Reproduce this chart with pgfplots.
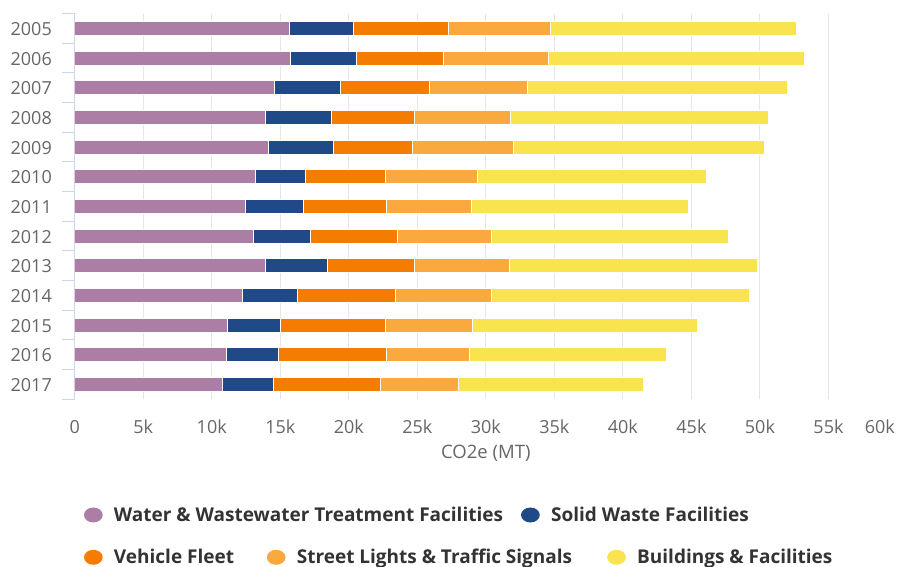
\documentclass[border=0pt]{standalone}
\usepackage{fontspec}
\setmainfont{Open Sans}
\usepackage{pgfplots}
\pgfplotsset{compat=1.18}
\usepackage{pgfplotstable}
\definecolor{cW}{HTML}{AC7EA6}
\definecolor{cS}{HTML}{1F4A87}
\definecolor{cV}{HTML}{F47C00}
\definecolor{cL}{HTML}{F9A93E}
\definecolor{cB}{HTML}{F9E44F}
\definecolor{gridc}{HTML}{E6E6E6}
\definecolor{axisc}{HTML}{CCD6EB}
\definecolor{tickc}{HTML}{666666}
\definecolor{legc}{HTML}{333333}
\pgfplotstableread{
year W S V L B
0 15640 4680 6960 7460 17960
1 15750 4790 6370 7640 18720
2 14610 4810 6500 7140 18970
3 13930 4810 6060 7020 18770
4 14170 4690 5820 7360 18310
5 13170 3680 5830 6690 16750
6 12470 4260 6030 6200 15820
7 13060 4130 6370 6830 17280
8 13930 4500 6370 6950 18070
9 12280 4010 7150 6950 18870
10 11160 3890 7630 6350 16410
11 11040 3810 7930 6030 14390
12 10820 3700 7820 5690 13490
}\datatable
\pgfplotsset{
  legaxis/.style={
    at={(74.7pt,167.7pt)}, anchor=south west,
    width=822.3pt, height=385.7pt, scale only axis,
    hide axis, xmin=0, xmax=1, ymin=0, ymax=1,
    legend cell align=left,
    legend image code/.code={\path[##1, draw=none] (9.35pt,0pt) ellipse [x radius=9.35pt, y radius=7.5pt];},
    legend style={draw=none, fill=none, inner sep=0pt, outer sep=0pt,
      font=\fontsize{19}{22}\selectfont\bfseries, text=legc,
      legend columns=-1,
      nodes={inner sep=0pt},
      /tikz/every odd column/.style={column sep=11.3pt},
      /tikz/every even column/.style={column sep=18pt}},
  }
}
\begin{document}
\begin{tikzpicture}
\useasboundingbox (0,0) rectangle (897pt,567pt);
\begin{axis}[
  at={(74.7pt,167.7pt)}, anchor=south west,
  width=822.3pt, height=385.7pt, scale only axis,
  xbar stacked, bar width=14pt,
  xmin=0, xmax=60000,
  ymin=-0.5, ymax=12.5, y dir=reverse,
  ytick={0,...,12},
  yticklabels={2005,2006,2007,2008,2009,2010,2011,2012,2013,2014,2015,2016,2017},
  minor ytick={-0.5,0.5,...,12.5},
  xtick={0,5000,...,55000},
  xticklabels={0,5k,10k,15k,20k,25k,30k,35k,40k,45k,50k,55k},
  extra x ticks={60000}, extra x tick labels={60k},
  extra x tick style={xticklabel style={anchor=base east, xshift=-2pt}},
  scaled x ticks=false,
  xmajorgrids, major grid style={draw=gridc, line width=1pt},
  separate axis lines,
  axis y line*=left, axis x line*=bottom,
  x axis line style={draw=none},
  y axis line style={draw=axisc, line width=1pt},
  xtick style={draw=none},
  major tick length=0pt, minor tick length=13pt, tick align=outside,
  minor y tick style={draw=axisc, line width=1pt},
  major y tick style={draw=none},
  ticklabel style={font=\fontsize{18}{22}\selectfont, text=tickc, inner sep=0pt},
  xticklabel style={anchor=base, yshift=-33.7pt},
  yticklabel style={anchor=base east, xshift=-22.7pt, yshift=-7.2pt},
  xlabel={CO2e (MT)},
  x label style={at={(axis description cs:0.5,0)}, anchor=base, yshift=-58.7pt,
    font=\fontsize{18.5}{22}\selectfont, text=tickc, inner sep=0pt},
]
\addplot[fill=cW, draw=white, line width=1pt] table[x=W, y=year] {\datatable};
\addplot[fill=cS, draw=white, line width=1pt] table[x=S, y=year] {\datatable};
\addplot[fill=cV, draw=white, line width=1pt] table[x=V, y=year] {\datatable};
\addplot[fill=cL, draw=white, line width=1pt] table[x=L, y=year] {\datatable};
\addplot[fill=cB, draw=white, line width=1pt] table[x=B, y=year] {\datatable};
\end{axis}
\begin{axis}[legaxis, legend style={at={(axis description cs:0.0113,-0.29997)}, anchor=west}]
\addlegendimage{fill=cW}
\addlegendentry{Water \& Wastewater Treatment Facilities}
\addlegendimage{fill=cS}
\addlegendentry{Solid Waste Facilities}
\end{axis}
\begin{axis}[legaxis, legend style={at={(axis description cs:0.0113,-0.40965)}, anchor=west}]
\addlegendimage{fill=cV}
\addlegendentry{Vehicle Fleet\hspace*{14.7pt}}
\addlegendimage{fill=cL}
\addlegendentry{Street Lights \& Traffic Signals\hspace*{17pt}}
\addlegendimage{fill=cB}
\addlegendentry{Buildings \& Facilities}
\end{axis}
\end{tikzpicture}
\end{document}
